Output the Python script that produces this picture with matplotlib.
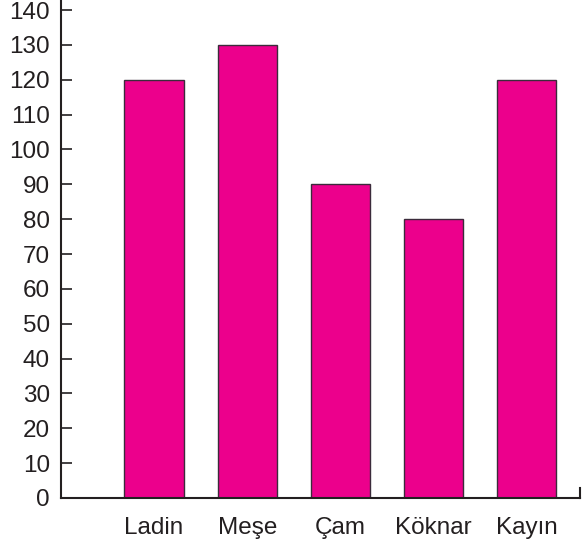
import matplotlib.pyplot as plt

plt.rcParams['font.family'] = ['Liberation Sans', 'DejaVu Sans']

trees = ['Ladin', 'Meşe', 'Çam', 'Köknar', 'Kayın']
counts = [120, 130, 90, 80, 120]
y_ticks = list(range(0, 150, 10))

bar_color = '#ec008c'
ink = '#231f20'

fig = plt.figure(figsize=(5.84, 5.44), dpi=100)
ax = fig.add_axes([0.1045, 0.0846, 0.8885, 0.9154])

x = range(len(trees))
ax.bar(x, counts, width=0.635, color=bar_color, edgecolor='#3b2b3b', linewidth=1.0, zorder=2)

ax.set_xlim(-0.998, 4.57)
ax.set_ylim(0, 142.9)
ax.set_yticks(y_ticks)
ax.set_xticks(list(x))
ax.set_xticklabels(trees)

for side in ['top', 'right']:
    ax.spines[side].set_visible(False)
for side in ['left', 'bottom']:
    ax.spines[side].set_linewidth(1.5)
    ax.spines[side].set_color(ink)

ax.tick_params(axis='y', direction='in', length=8, width=1.2, color=ink,
               pad=8, labelsize=17.5, labelcolor=ink)
ax.tick_params(axis='x', length=0, pad=14, labelsize=17.5, labelcolor=ink)

# small upturn at the right end of the baseline
ax.plot([1, 1], [0, 0.02], transform=ax.transAxes, color=ink, linewidth=1.5, clip_on=False)

fig.savefig('out.png', dpi=100)
